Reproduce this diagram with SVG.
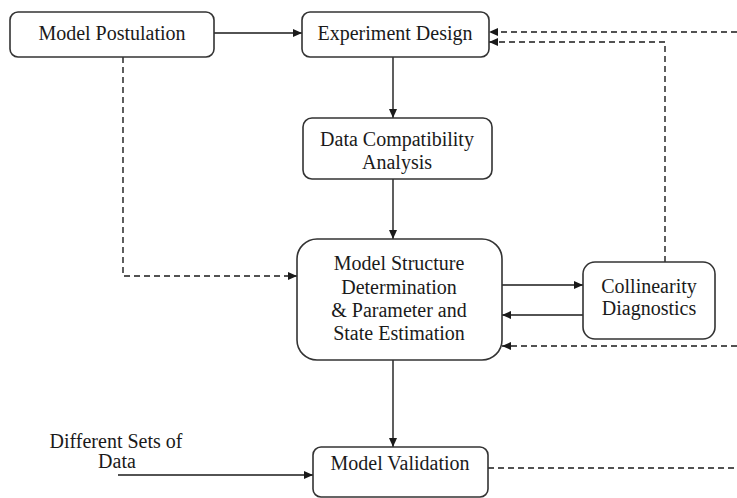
<svg xmlns="http://www.w3.org/2000/svg" width="737" height="498" viewBox="0 0 737 498">
<defs>
<marker id="ah" markerWidth="9" markerHeight="8" refX="9" refY="4" orient="auto" markerUnits="userSpaceOnUse">
<path d="M0,0 L9,4 L0,8 Z" fill="#1a1a1a"/>
</marker>
</defs>
<style>
.box{fill:#fff;stroke:#333;stroke-width:1.6}
.c{fill:none;stroke:#1a1a1a;stroke-width:1.4}
.d{fill:none;stroke:#1a1a1a;stroke-width:1.4;stroke-dasharray:6,4}
</style>
<rect width="737" height="498" fill="#fff"/>
<g id="connectors">
<line class="c" x1="214" y1="33" x2="302" y2="33" marker-end="url(#ah)"/>
<line class="c" x1="393" y1="57" x2="393" y2="118" marker-end="url(#ah)"/>
<line class="c" x1="393" y1="179" x2="393" y2="239" marker-end="url(#ah)"/>
<polyline class="d" points="123,57 123,276 297,276" marker-end="url(#ah)"/>
<line class="c" x1="502" y1="285" x2="583" y2="285" marker-end="url(#ah)"/>
<line class="c" x1="583" y1="315" x2="502" y2="315" marker-end="url(#ah)"/>
<polyline class="d" points="665,262 665,42 489,42" marker-end="url(#ah)"/>
<line class="d" x1="737" y1="32" x2="489" y2="32" marker-end="url(#ah)"/>
<line class="d" x1="737" y1="346" x2="502" y2="346" marker-end="url(#ah)"/>
<line class="c" x1="393" y1="360" x2="393" y2="447" marker-end="url(#ah)"/>
<line class="c" x1="118" y1="475" x2="313" y2="475" marker-end="url(#ah)"/>
<line class="d" x1="488" y1="468" x2="737" y2="468"/>
</g>
<g id="model-postulation">
<rect class="box" x="10" y="12" width="204" height="45" rx="8"/>
<text font-family="Liberation Serif" font-size="20" fill="#1a1a1a" text-anchor="middle" x="112" y="40">Model Postulation</text>
</g>
<g id="experiment-design">
<rect class="box" x="302" y="12" width="187" height="45" rx="8"/>
<text font-family="Liberation Serif" font-size="20" fill="#1a1a1a" text-anchor="middle" x="395" y="40">Experiment Design</text>
</g>
<g id="data-compatibility">
<rect class="box" x="303" y="118" width="189" height="61" rx="9"/>
<text font-family="Liberation Serif" font-size="20" fill="#1a1a1a" text-anchor="middle" x="397" y="146">Data Compatibility</text>
<text font-family="Liberation Serif" font-size="20" fill="#1a1a1a" text-anchor="middle" x="397" y="169">Analysis</text>
</g>
<g id="model-structure">
<rect class="box" x="297" y="239" width="205" height="121" rx="20"/>
<text font-family="Liberation Serif" font-size="20" fill="#1a1a1a" text-anchor="middle" x="399" y="270">Model Structure</text>
<text font-family="Liberation Serif" font-size="20" fill="#1a1a1a" text-anchor="middle" x="399" y="294">Determination</text>
<text font-family="Liberation Serif" font-size="20" fill="#1a1a1a" text-anchor="middle" x="399" y="317">&amp; Parameter and</text>
<text font-family="Liberation Serif" font-size="20" fill="#1a1a1a" text-anchor="middle" x="399" y="340">State Estimation</text>
</g>
<g id="collinearity">
<rect class="box" x="583" y="262" width="132" height="77" rx="12"/>
<text font-family="Liberation Serif" font-size="20" fill="#1a1a1a" text-anchor="middle" x="649" y="293">Collinearity</text>
<text font-family="Liberation Serif" font-size="20" fill="#1a1a1a" text-anchor="middle" x="649" y="315">Diagnostics</text>
</g>
<g id="model-validation">
<rect class="box" x="313" y="447" width="175" height="50" rx="8"/>
<text font-family="Liberation Serif" font-size="20" fill="#1a1a1a" text-anchor="middle" x="400" y="470">Model Validation</text>
</g>
<g id="data-label">
<text font-family="Liberation Serif" font-size="20" fill="#1a1a1a" text-anchor="middle" x="116" y="448">Different Sets of</text>
<text font-family="Liberation Serif" font-size="20" fill="#1a1a1a" text-anchor="middle" x="117" y="468">Data</text>
</g>
</svg>
